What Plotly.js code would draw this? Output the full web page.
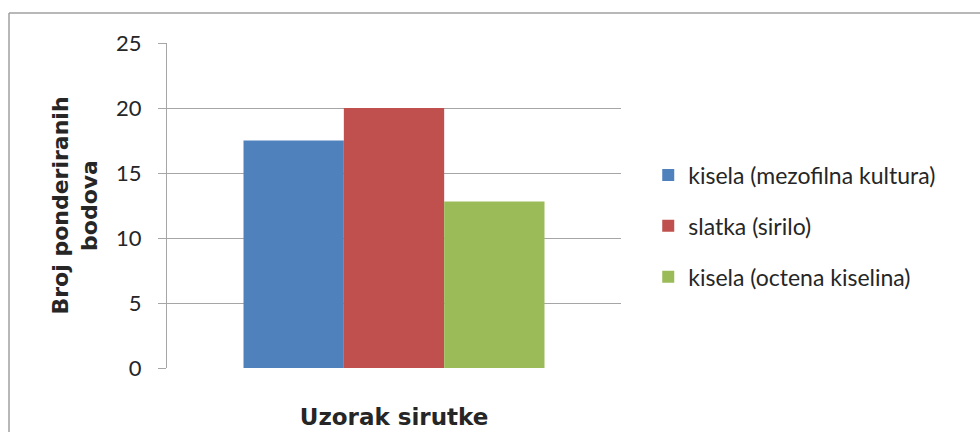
<!DOCTYPE html>
<html>
<head>
<meta charset="utf-8">
<script src="https://cdn.plot.ly/plotly-3.0.1.min.js"></script>
<style>
  html, body { margin: 0; padding: 0; background: #ffffff; }
  #chart { width: 980px; height: 432px; }
</style>
</head>
<body>
<div id="chart"></div>
<script>
// ---- data ----
const categories = ['Uzorak sirutke'];
const seriesNames = ['kisela (mezofilna kultura)', 'slatka (sirilo)', 'kisela (octena kiselina)'];
const mezofilnaValues = [17.5];
const siriloValues = [20];
const octenaValues = [12.8];
const yTickValues = [0, 5, 10, 15, 20, 25];
const yTitle = 'Broj ponderiranih<br>bodova';
const xTitle = 'Uzorak sirutke';

const colors = ['#4F81BD', '#C0504D', '#9BBB59'];
const seriesValues = [mezofilnaValues, siriloValues, octenaValues];

const traces = seriesValues.map((vals, i) => ({
  type: 'bar',
  name: seriesNames[i],
  x: categories,
  y: vals,
  marker: { color: colors[i], line: { width: 0 } },
  legendgroup: 'g' + i,
  hoverinfo: 'name+y'
}));

const gridColor = '#A6A6A6';
const textColor = '#262626';

const layout = {
  width: 980,
  height: 432,
  margin: { l: 167, r: 359, t: 43, b: 64, pad: 0 },
  paper_bgcolor: '#ffffff',
  plot_bgcolor: '#ffffff',
  barmode: 'group',
  bargap: 0.337,
  bargroupgap: 0,
  font: { family: 'Lato, "Open Sans", sans-serif', color: textColor, size: 20 },
  xaxis: {
    type: 'category',
    showticklabels: false,
    ticks: '',
    showgrid: false,
    showline: false,
    zeroline: false,
    fixedrange: true,
    title: {
      text: xTitle,
      font: { family: '"DejaVu Sans", sans-serif', size: 23, color: textColor, weight: 'bold' },
      standoff: 40
    }
  },
  yaxis: {
    range: [0, 25],
    tickvals: yTickValues,
    ticktext: yTickValues.map(String),
    ticks: 'outside',
    ticklen: 8,
    tickwidth: 1,
    tickcolor: gridColor,
    showgrid: true,
    gridcolor: gridColor,
    gridwidth: 1,
    showline: true,
    linecolor: gridColor,
    linewidth: 1,
    zeroline: false,
    ticklabelstandoff: 12,
    tickfont: { family: 'Lato, "Open Sans", sans-serif', size: 22, color: textColor },
    fixedrange: true,
    title: {
      text: yTitle,
      font: { family: '"DejaVu Sans", sans-serif', size: 22, color: textColor, weight: 'bold' },
      standoff: 12
    }
  },
  showlegend: true,
  legend: {
    x: 1.06,
    xanchor: 'left',
    y: 0.437,
    yanchor: 'middle',
    font: { family: 'Lato, "Open Sans", sans-serif', size: 23, color: textColor },
    tracegroupgap: 18,
    traceorder: 'grouped',
    bgcolor: 'rgba(0,0,0,0)',
    borderwidth: 0
  },
  shapes: [
    { type: 'line', xref: 'paper', yref: 'paper', x0: -0.348, x1: 1.8, y0: 1.0923, y1: 1.0923,
      line: { color: '#A0A0A0', width: 1.5 } },
    { type: 'line', xref: 'paper', yref: 'paper', x0: -0.348, x1: -0.348, y0: 1.0923, y1: -0.25,
      line: { color: '#A0A0A0', width: 1.5 } }
  ]
};

Plotly.newPlot('chart', traces, layout, { displayModeBar: false, staticPlot: true });
</script>
</body>
</html>
